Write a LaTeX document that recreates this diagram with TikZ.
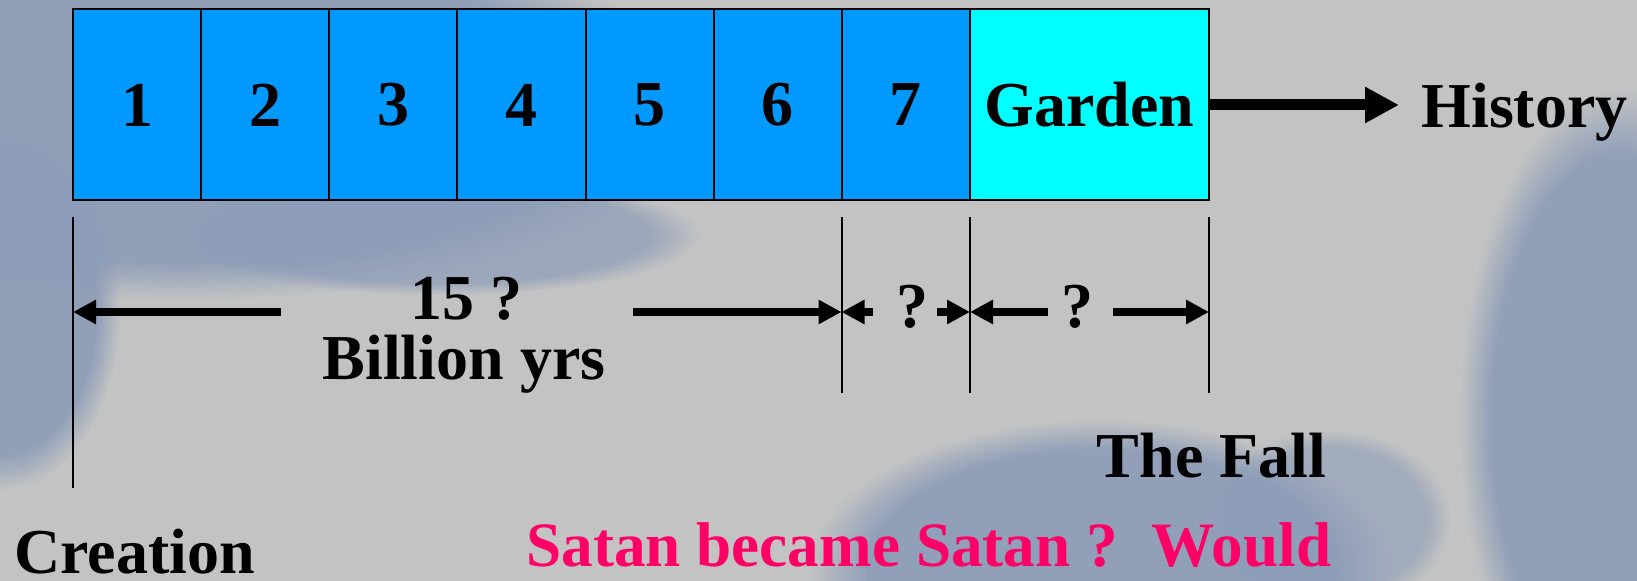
\documentclass[tikz,border=0pt]{standalone}
\usepackage{fontspec}
\setmainfont{Liberation Serif}
\usetikzlibrary{arrows.meta,fadings}
\definecolor{bggray}{HTML}{C3C3C3}
\definecolor{cloudblue}{HTML}{8C9CB8}
\definecolor{cellblue}{HTML}{0099FF}
\definecolor{gardencyan}{HTML}{00FFFF}
\definecolor{satanpink}{HTML}{FF0066}
\begin{document}
\begin{tikzpicture}[x=0.5pt,y=-0.5pt,
  bigfont/.style={font=\fontsize{32}{38}\selectfont\bfseries},
  lbl/.style={bigfont, inner sep=0pt},
  cell/.style={draw=black, line width=1pt, fill=cellblue, minimum width=64.07pt,
    minimum height=95.5pt, inner sep=0pt, bigfont},
  gardenbox/.style={cell, fill=gardencyan, minimum width=119.5pt},
  tick/.style={draw=black, line width=1pt},
  mainarrow/.style={line width=5.5pt, -{Triangle[length=17pt,width=17pt]}},
  dimarrow/.style={line width=4pt, -{Triangle[length=11.5pt,width=11.5pt]}},
  cloud/.style={fill=cloudblue, path fading=circle with fuzzy edge 20 percent}]
\useasboundingbox (0,0) rectangle (1637,581);
\fill[bggray] (0,0) rectangle (1637,581);
% background clouds
\fill[cloud, opacity=0.9] (180,110) ellipse [x radius=520, y radius=190];
\fill[cloud, opacity=0.9] (0,310) ellipse [x radius=120, y radius=180];
\fill[cloud, opacity=0.7] (440,235) ellipse [x radius=260, y radius=60];
\fill[cloud, opacity=0.9] (1620,420) ellipse [x radius=160, y radius=330];
\fill[cloud, opacity=0.9] (1100,570) ellipse [x radius=290, y radius=150];
\fill[cloud, opacity=0.6] (1330,520) ellipse [x radius=120, y radius=90];
% cells
\node[cell] (c1) at (137.07,105) {1};
\node[cell] (c2) at (265.21,105) {2};
\node[cell] (c3) at (393.35,105) {3};
\node[cell] (c4) at (521.49,105) {4};
\node[cell] (c5) at (649.63,105) {5};
\node[cell] (c6) at (777.77,105) {6};
\node[cell] (c7) at (905.91,105) {7};
\node[gardenbox] (garden) at (1089.5,105) {Garden};
\node[lbl, anchor=base west] (history) at (1421,128) {History};
\coordinate (histtip) at (1399,105);
\draw[mainarrow] (garden.east) -- (histtip);
% tick lines
\coordinate (t0a) at (73,217);  \coordinate (t0b) at (73,488);
\coordinate (t7a) at (841.5,217); \coordinate (t7b) at (841.5,393);
\coordinate (tga) at (970,217); \coordinate (tgb) at (970,393);
\coordinate (tea) at (1209,217); \coordinate (teb) at (1209,393);
\draw[tick] (t0a) -- (t0b);
\draw[tick] (t7a) -- (t7b);
\draw[tick] (tga) -- (tgb);
\draw[tick] (tea) -- (teb);
% dimension arrows
\coordinate (d0) at (73,312);
\coordinate (d7) at (841.5,312);
\coordinate (dg) at (970,312);
\coordinate (de) at (1209,312);
\coordinate (a1s) at (281,312);
\coordinate (a2s) at (633,312);
\coordinate (b1s) at (873,312);
\coordinate (b2s) at (937,312);
\coordinate (g1s) at (1048,312);
\coordinate (g2s) at (1113,312);
\draw[dimarrow] (a1s) -- (d0);
\draw[dimarrow] (a2s) -- (d7);
\draw[dimarrow] (b1s) -- (d7);
\draw[dimarrow] (b2s) -- (dg);
\draw[dimarrow] (g1s) -- (dg);
\draw[dimarrow] (g2s) -- (de);
% labels
\node[lbl, anchor=base] (fifteen) at (466,320) {15 ?};
\node[lbl, anchor=base] (billion) at (464,380) {Billion yrs};
\node[lbl, anchor=base] (q1) at (912,328) {?};
\node[lbl, anchor=base] (q2) at (1077,328) {?};
\node[lbl, anchor=base] (fall) at (1211.5,478) {The Fall};
\node[lbl, anchor=base west] (creation) at (14,574) {Creation};
\node[lbl, anchor=base west, text=satanpink, font=\fontsize{31.6}{38}\selectfont\bfseries] (satan) at (526,567) {Satan became Satan ?\hspace{17pt}Would};
\end{tikzpicture}
\end{document}
